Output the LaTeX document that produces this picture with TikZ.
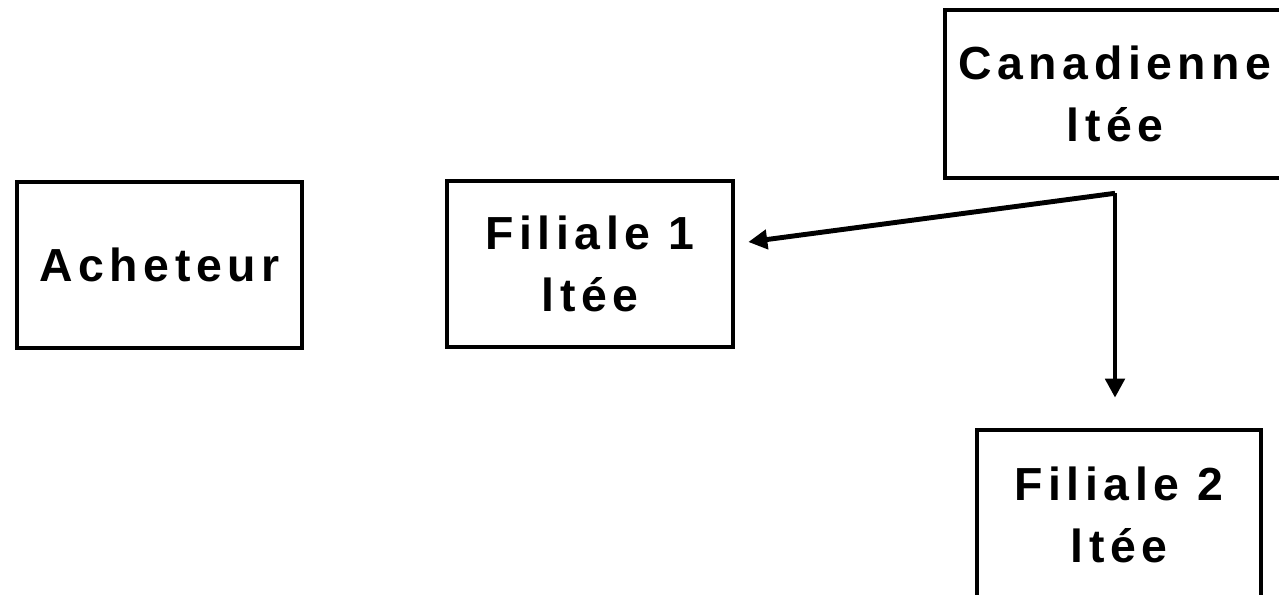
\documentclass[tikz,border=0pt]{standalone}
\usepackage{fontspec}
\newfontfamily\boxfont[LetterSpace=12]{Liberation Sans}
\usepackage{tikz}
\usetikzlibrary{arrows}
\usetikzlibrary{arrows.meta}
\usetikzlibrary{positioning}

\begin{document}
\begin{tikzpicture}[
    entity/.style={draw, line width=2.6pt, align=center, inner sep=0pt,
      font=\boxfont\bfseries\fontsize{26.4}{35}\selectfont},
    flow/.style={line width=2.8pt, -{Triangle[length=0.38cm,width=0.38cm]}}
  ]
    \useasboundingbox (0,0) rectangle (25.58,-11.9);

    \node[entity, minimum width=5.7cm, minimum height=3.32cm] (acheteur) at (3.19,-5.3) {Acheteur};
    \node[entity, minimum width=5.72cm, minimum height=3.32cm] (filiale1) at (11.8,-5.28) {Filiale 1\\ltée};
    \node[entity, minimum width=6.8cm, minimum height=3.36cm] (canadienne) at (22.3,-1.88) {Canadienne\\ltée};
    \node[entity, minimum width=5.68cm, minimum height=3.4cm] (filiale2) at (22.38,-10.3) {Filiale 2\\ltée};

    \coordinate (split) at ([yshift=-0.26cm]canadienne.south);
    \coordinate (toF1) at ([xshift=0.26cm,yshift=0.44cm]filiale1.east);
    \coordinate (toF2) at ([yshift=0.6cm]split |- filiale2.north);

    \draw[flow] (split) -- (toF1);
    \draw[flow] (split) -- (toF2);
  \end{tikzpicture}
\end{document}
